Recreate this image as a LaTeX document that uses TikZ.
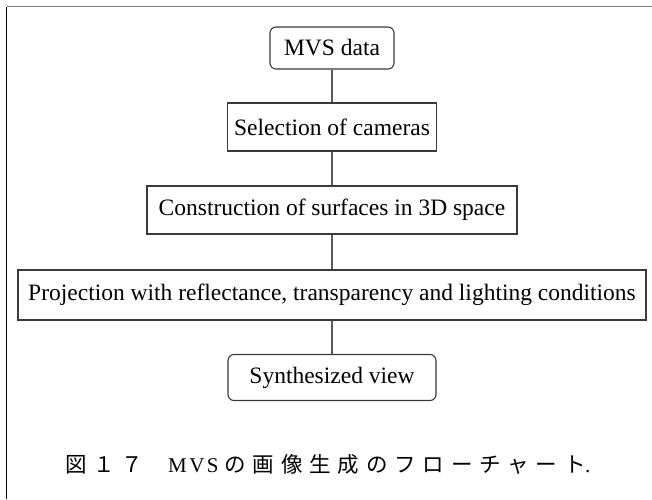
\documentclass[tikz,border=0pt]{standalone}
\usepackage{fontspec}
\setmainfont{Liberation Serif}
\newfontfamily\cjk{Noto Sans CJK JP}
\definecolor{boxline}{HTML}{3A3A3A}
\definecolor{linkgray}{HTML}{5A5A5A}
\definecolor{framegray}{HTML}{7A7A7A}
% one full-width slot of the caption
\newcommand\jc[1]{\makebox[28.3pt][l]{#1}}
\begin{document}
\begin{tikzpicture}[x=1pt,y=-1pt,
  flowbox/.style={draw=boxline, line width=1.1pt, minimum height=48pt,
    inner sep=0pt, font=\fontsize{23.5}{26}\selectfont},
  termbox/.style={flowbox, rounded corners=6pt},
  link/.style={draw=linkgray, line width=1.1pt}]
\useasboundingbox[fill=white] (0,0) rectangle (652,499);

% frame around the figure
\draw[framegray, line width=1.4pt] (652,6.5) -- (6.5,6.5);
\draw[black, line width=1.2pt] (6.5,6.5) -- (6.5,499);

% flow chart
\node[termbox, minimum width=124pt, minimum height=42pt] (mvs) at (332,48) {MVS data};
\node[flowbox, minimum width=209pt] (sel) at (332,127) {Selection of cameras};
\node[flowbox, minimum width=370pt] (con) at (332,210) {Construction of surfaces in 3D space};
\node[flowbox, minimum width=628pt, minimum height=50pt] (proj) at (332,295)
  {Projection with reflectance, transparency and lighting conditions};
\node[termbox, minimum width=208pt, minimum height=46pt] (syn) at (332,377.5) {Synthesized view};

\draw[link] (mvs) -- (sel);
\draw[link] (sel) -- (con);
\draw[link] (con) -- (proj);
\draw[link] (proj) -- (syn);

% caption
\node[anchor=west, inner sep=0pt] (cap) at (65,464) {%
  {\cjk\fontsize{21.5}{24}\selectfont\jc{図}\jc{１}\jc{７}}\hspace{18pt}%
  {\fontsize{21}{24}\selectfont M\hspace{2.5pt}V\hspace{2.5pt}S}\hspace{6pt}%
  {\cjk\fontsize{21.5}{24}\selectfont\jc{の}\jc{画}\jc{像}\jc{生}\jc{成}\jc{の}\jc{フ}\jc{ロ}\jc{ー}\jc{チ}\jc{ャ}\jc{ー}\makebox[21pt][l]{ト}}%
  {\fontsize{21}{24}\selectfont .}};
\end{tikzpicture}
\end{document}
